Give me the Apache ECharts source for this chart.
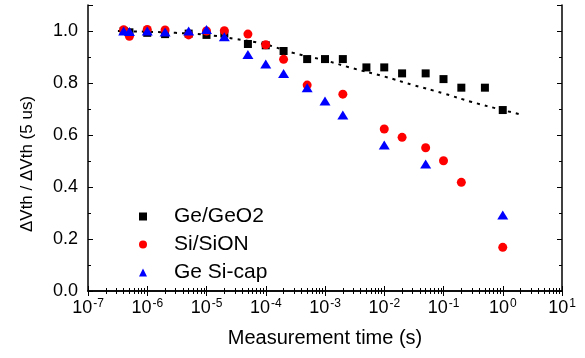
<!DOCTYPE html>
<html><head><meta charset="utf-8">
<script src="https://cdn.jsdelivr.net/npm/echarts@6/dist/echarts.min.js"></script>
<style>html,body{margin:0;padding:0;background:#fff}#c{width:585px;height:358px}</style>
</head><body><div id="c"></div>
<script>
// Ge/GeO2 (black squares)
const geTimes = [4e-7,5e-7,1e-6,2e-6,5e-6,1e-5,2e-5,5e-5,1e-4,2e-4,5e-4,1e-3,2e-3,5e-3,1e-2,2e-2,5e-2,1e-1,2e-1,5e-1,1];
const geValues = [1.0,0.995,0.993,0.988,0.99,0.985,0.99,0.95,0.945,0.923,0.892,0.892,0.892,0.86,0.86,0.837,0.837,0.815,0.782,0.782,0.696];
// Si/SiON (red circles)
const siTimes = [4e-7,5e-7,1e-6,2e-6,5e-6,1e-5,2e-5,5e-5,1e-4,2e-4,5e-4,2e-3,1e-2,2e-2,5e-2,1e-1,2e-1,1];
const siValues = [1.005,0.98,1.006,1.004,0.985,1.0,1.001,0.988,0.947,0.891,0.792,0.757,0.623,0.591,0.551,0.501,0.418,0.168];
// Ge Si-cap (blue triangles)
const capTimes = [4e-7,5e-7,1e-6,2e-6,5e-6,1e-5,2e-5,5e-5,1e-4,2e-4,5e-4,1e-3,2e-3,1e-2,5e-2,1];
const capValues = [1.0,0.998,1.0,0.996,1.0,1.006,0.978,0.91,0.873,0.837,0.782,0.731,0.677,0.562,0.488,0.292];
// dotted fit curve
const fitTimes = [3.2e-7,1e-6,3e-6,1e-5,3e-5,1e-4,3e-4,1e-3,3e-3,1e-2,3e-2,1e-1,3e-1,1,2];
const fitValues = [1.0,0.997,0.993,0.985,0.97,0.948,0.915,0.887,0.856,0.825,0.793,0.76,0.727,0.696,0.679];
// axis ticks
const yTicks = [0,0.2,0.4,0.6,0.8,1.0];
const seriesNames = ['Ge/GeO2','Si/SiON','Ge Si-cap'];

const FONT = 'Liberation Sans, Arial, sans-serif';
const zip = (a,b) => a.map((t,i)=>[t,b[i]]);
const chart = echarts.init(document.getElementById('c'), null, {renderer:'canvas'});
const axLine = {show:true, lineStyle:{color:'#000', width:1.5}};
const xBase = {
  type:'log', logBase:10, min:1e-7, max:10,
  axisLine:axLine,
  axisTick:{show:true, inside:true, length:5, lineStyle:{color:'#000', width:1}},
  minorTick:{show:true, splitNumber:9, length:3, lineStyle:{color:'#000', width:1}},
  splitLine:{show:false}, minorSplitLine:{show:false}
};
const yBase = {
  type:'value', min:0, max:1.1, interval:0.2,
  axisLine:axLine,
  axisTick:{show:true, inside:true, length:5, lineStyle:{color:'#000', width:1}},
  minorTick:{show:true, splitNumber:2, length:3, lineStyle:{color:'#000', width:1}},
  splitLine:{show:false}
};
chart.setOption({
  backgroundColor:'#fff',
  animation:false,
  textStyle:{fontFamily:FONT, color:'#000'},
  grid:{left:88, right:23, top:5, bottom:67, containLabel:false},
  legend:{
    data:seriesNames, orient:'vertical', left:134, top:201,
    itemWidth:8, itemHeight:8, itemGap:7,
    textStyle:{fontFamily:FONT, fontSize:21, lineHeight:20, color:'#000', padding:[0,0,0,22]}
  },
  xAxis:[
    Object.assign({}, xBase, {
      position:'bottom',
      name:'Measurement time (s)', nameLocation:'middle', nameGap:37,
      nameTextStyle:{fontFamily:FONT, fontSize:20, color:'#000'},
      axisLabel:{
        show:true, margin:6, color:'#000',
        formatter:(v)=>'{b|10}{s|' + Math.round(Math.log10(v)) + '}',
        rich:{
          b:{fontFamily:FONT, fontSize:18, color:'#000', lineHeight:20, verticalAlign:'bottom'},
          s:{fontFamily:FONT, fontSize:12, color:'#000', lineHeight:20, verticalAlign:'bottom', padding:[0,0,7,1]}
        }
      }
    }),
    Object.assign({}, xBase, {position:'top', axisLabel:{show:false}})
  ],
  yAxis:[
    Object.assign({}, yBase, {
      position:'left',
      name:'ΔVth / ΔVth (5 us)', nameLocation:'middle', nameGap:52,
      nameTextStyle:{fontFamily:FONT, fontSize:17, color:'#000', padding:[0,32,0,0]},
      axisLabel:{show:true, margin:10, color:'#000', fontFamily:FONT, fontSize:18,
        showMaxLabel:false,
        formatter:(v)=> yTicks.some(t=>Math.abs(t-v)<1e-9) ? v.toFixed(1) : ''}
    }),
    Object.assign({}, yBase, {position:'right', axisLabel:{show:false}})
  ],
  series:[
    {type:'line', name:'fit', data:zip(fitTimes, fitValues), smooth:true, showSymbol:false, symbol:'none',
     lineStyle:{color:'#000', width:2, type:[3,5]}, z:1, xAxisIndex:0, yAxisIndex:0},
    {type:'scatter', name:seriesNames[0], data:zip(geTimes, geValues), symbol:'rect', symbolSize:8,
     itemStyle:{color:'#000', opacity:1}, z:2},
    {type:'scatter', name:seriesNames[1], data:zip(siTimes, siValues), symbol:'circle', symbolSize:9,
     itemStyle:{color:'#ff0000', opacity:1}, z:3},
    {type:'scatter', name:seriesNames[2], data:zip(capTimes, capValues), symbol:'triangle', symbolSize:[11,9],
     itemStyle:{color:'#0000ff', opacity:1}, z:4}
  ]
});
</script>
</body></html>
